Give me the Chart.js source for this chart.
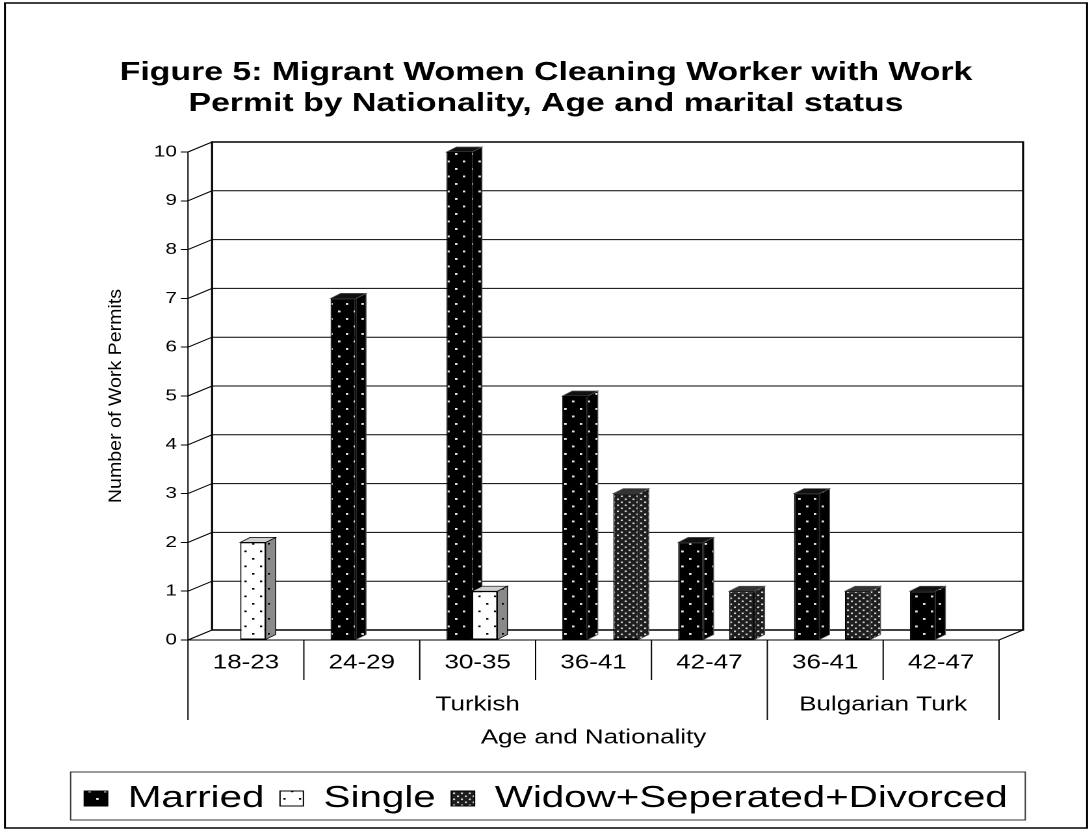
<!DOCTYPE html>
<html>
<head>
<meta charset="utf-8">
<script src="https://cdn.jsdelivr.net/npm/chart.js@4/dist/chart.umd.min.js"></script>
<style>
  html, body { margin: 0; padding: 0; background: #fff; }
  #chart { display: block; }
</style>
</head>
<body>
<!-- the original picture is stretched sideways, so the canvas is drawn narrow and widened by css -->
<canvas id="chart" width="840" height="832" style="width:1092px;height:832px"></canvas>
<script>
const ageGroups = ['18-23', '24-29', '30-35', '36-41', '42-47', '36-41', '42-47'];
const nationalities = ['Turkish', 'Bulgarian Turk'];
const nationalitySpan = [5, 2];
const married = [0, 7, 10, 5, 2, 3, 1];
const single = [2, 0, 1, 0, 0, 0, 0];
const widowSepDiv = [0, 0, 0, 3, 1, 1, 0];
const seriesNames = ['Married', 'Single', 'Widow+Seperated+Divorced'];
const titleLines = ['Figure 5: Migrant Women Cleaning Worker with Work', 'Permit by Nationality, Age and marital status'];
const yMax = 10;

const FONT = '"Liberation Sans", Arial, sans-serif';
Chart.defaults.font.family = FONT;
Chart.defaults.color = '#000';

// 3d look
const wall = { dx: 18.5, dy: -10 };
const barDepth = { dx: 7.7, dy: -5 };
const barShift = 5.4;

function dotPattern(bg, dot, w, h, dots, size) {
  const k = 4;
  const c = document.createElement('canvas');
  c.width = Math.round(w * k);
  c.height = Math.round(h * k);
  const g = c.getContext('2d');
  g.fillStyle = bg;
  g.fillRect(0, 0, c.width, c.height);
  g.fillStyle = dot;
  dots.forEach(([x, y]) => g.fillRect(x * k, y * k, size * k, size * k));
  const p = g.createPattern(c, 'repeat');
  p.setTransform(new DOMMatrix().scale(1 / k));
  return p;
}

const patMarried = dotPattern('#000', '#e6e6e6', 12, 15, [[2, 3], [8, 10.5]], 1.9);
const patSingle = dotPattern('#fff', '#000', 12, 15, [[2, 3], [8, 10.5]], 1.7);
const patSingleSide = dotPattern('#8a8a8a', '#000', 12, 15, [[2, 3], [8, 10.5]], 1.6);
const patWidow = dotPattern('#1e1e1e', '#d0d0d0', 6, 6, [[0.5, 0.5], [3.5, 3.5]], 1.6);

const faces = [
  { side: patMarried, top: '#111', edge: '#555' },
  { side: patSingleSide, top: '#cfcfcf', edge: '#000' },
  { side: patWidow, top: '#333', edge: '#555' },
];

const shiftBars = {
  id: 'shiftBars',
  afterDatasetsUpdate(chart) {
    chart.getSortedVisibleDatasetMetas().forEach(meta => {
      meta.data.forEach(el => { el.x += barShift; });
    });
  }
};

const walls = {
  id: 'walls',
  beforeDatasetsDraw(chart) {
    const { ctx, chartArea } = chart;
    const { left, right, top, bottom } = chartArea;
    const ys = chart.scales.y;
    ctx.save();
    ctx.strokeStyle = '#000';
    ctx.lineWidth = 1;
    ys.ticks.forEach(t => {
      const y = ys.getPixelForValue(t.value);
      ctx.beginPath();
      ctx.moveTo(left, y);
      ctx.lineTo(left + wall.dx, y + wall.dy);
      ctx.lineTo(right + wall.dx, y + wall.dy);
      ctx.stroke();
    });
    ctx.lineWidth = 1.6;
    ctx.beginPath();
    ctx.moveTo(left + wall.dx, bottom + wall.dy);
    ctx.lineTo(left + wall.dx, top + wall.dy);
    ctx.lineTo(right + wall.dx, top + wall.dy);
    ctx.lineTo(right + wall.dx, bottom + wall.dy);
    ctx.lineTo(left + wall.dx, bottom + wall.dy);
    ctx.stroke();
    ctx.lineWidth = 1;
    ctx.beginPath();
    ctx.moveTo(left, top);
    ctx.lineTo(left, bottom);
    ctx.lineTo(right, bottom);
    ctx.lineTo(right + wall.dx, bottom + wall.dy);
    ctx.stroke();

    // sides and tops of the bars, behind the front faces
    ctx.lineWidth = 0.7;
    chart.getSortedVisibleDatasetMetas().forEach(meta => {
      const f = faces[meta.index];
      meta.data.forEach(el => {
        const { x, y, base, width } = el.getProps(['x', 'y', 'base', 'width'], true);
        if (Math.abs(base - y) < 0.5) return;
        const l = x - width / 2, r = x + width / 2;
        const t = Math.min(y, base), b = Math.max(y, base);
        ctx.strokeStyle = f.edge;
        ctx.beginPath();
        ctx.moveTo(r, b);
        ctx.lineTo(r + barDepth.dx, b + barDepth.dy);
        ctx.lineTo(r + barDepth.dx, t + barDepth.dy);
        ctx.lineTo(r, t);
        ctx.closePath();
        ctx.fillStyle = f.side;
        ctx.fill();
        ctx.stroke();
        ctx.beginPath();
        ctx.moveTo(l, t);
        ctx.lineTo(l + barDepth.dx, t + barDepth.dy);
        ctx.lineTo(r + barDepth.dx, t + barDepth.dy);
        ctx.lineTo(r, t);
        ctx.closePath();
        ctx.fillStyle = f.top;
        ctx.fill();
        ctx.stroke();
      });
    });
    ctx.restore();
  }
};

const extras = {
  id: 'extras',
  afterDraw(chart) {
    const { ctx, chartArea } = chart;
    const xs = chart.scales.x;
    const bottom = chartArea.bottom;
    ctx.save();
    ctx.strokeStyle = '#000';
    ctx.lineWidth = 1;

    // category and nationality separators under the axis
    const groupEdges = [0];
    nationalitySpan.forEach(n => groupEdges.push(groupEdges[groupEdges.length - 1] + n));
    for (let k = 0; k <= ageGroups.length; k++) {
      const x = xs.getPixelForValue(k - 0.5);
      const long = groupEdges.includes(k);
      ctx.beginPath();
      ctx.moveTo(x, bottom);
      ctx.lineTo(x, bottom + (long ? 80 : 40));
      ctx.stroke();
    }
    ctx.fillStyle = '#000';
    ctx.font = '20px ' + FONT;
    ctx.textAlign = 'center';
    ctx.textBaseline = 'middle';
    nationalities.forEach((name, i) => {
      const x0 = xs.getPixelForValue(groupEdges[i] - 0.5);
      const x1 = xs.getPixelForValue(groupEdges[i + 1] - 0.5);
      ctx.fillText(name, (x0 + x1) / 2, bottom + 65);
    });

    // y axis title, condensed like the original
    ctx.save();
    ctx.translate(89, (chartArea.top + chartArea.bottom) / 2);
    ctx.rotate(-Math.PI / 2);
    ctx.scale(1.4, 1);
    ctx.font = '14px ' + FONT;
    ctx.fillText('Number of Work Permits', 0, 0);
    ctx.restore();

    // legend frame
    const lg = chart.legend;
    const hb = lg.legendHitBoxes;
    const last = hb[hb.length - 1];
    const fx0 = hb[0].left - 10.5;
    const fx1 = last.left + last.width + 13.5;
    ctx.strokeStyle = '#333';
    ctx.strokeRect(fx0, lg.top + 1, fx1 - fx0, lg.bottom - 4 - (lg.top + 1));

    // outer frame
    ctx.strokeStyle = '#000';
    ctx.lineWidth = 1.5;
    ctx.strokeRect(3.8, 3, chart.width - 7.6, 825);
    ctx.restore();
  }
};

function dataset(i, values, fill) {
  return {
    label: seriesNames[i],
    data: values,
    backgroundColor: fill,
    borderColor: '#000',
    borderWidth: 1,
    borderSkipped: false,
    inflateAmount: 0,
    categoryPercentage: 0.66,
    barPercentage: 1,
    xAxisID: 'x',
    yAxisID: 'y'
  };
}

new Chart(document.getElementById('chart'), {
  type: 'bar',
  data: {
    labels: ageGroups,
    datasets: [
      dataset(0, married, patMarried),
      dataset(1, single, patSingle),
      dataset(2, widowSepDiv, patWidow)
    ]
  },
  options: {
    responsive: false,
    animation: false,
    events: [],
    devicePixelRatio: 2,
    layout: { padding: { left: 0, right: 0, top: 0, bottom: 8 } },
    plugins: {
      title: {
        display: true,
        text: titleLines,
        color: '#000',
        font: { size: 26, weight: 'bold', lineHeight: 1.2 },
        padding: { top: 57, bottom: 32.6 }
      },
      legend: {
        position: 'bottom',
        labels: {
          color: '#000',
          font: { size: 31 },
          boxWidth: 18,
          boxHeight: 15,
          padding: 12
        }
      },
      tooltip: { enabled: false }
    },
    scales: {
      x: {
        grid: { display: false, drawTicks: false },
        border: { display: false },
        ticks: { font: { size: 20 }, color: '#000', padding: 11, maxRotation: 0, autoSkip: false },
        title: { display: true, text: 'Age and Nationality', font: { size: 20 }, color: '#000', padding: { top: 0, bottom: 21 } },
        afterFit: s => { s.height = 131; }
      },
      y: {
        min: 0,
        max: yMax,
        ticks: { stepSize: 1, font: { size: 16 }, color: '#000', padding: 3 },
        grid: { drawOnChartArea: false, tickLength: 5.5, color: '#000', lineWidth: 1 },
        border: { display: false },
        afterFit: s => { s.width = 144.6; }
      },
      yRight: {
        position: 'right',
        grid: { display: false },
        ticks: { display: false },
        border: { display: false },
        afterFit: s => { s.width = 71.5; }
      }
    }
  },
  plugins: [shiftBars, walls, extras]
});
</script>
</body>
</html>
